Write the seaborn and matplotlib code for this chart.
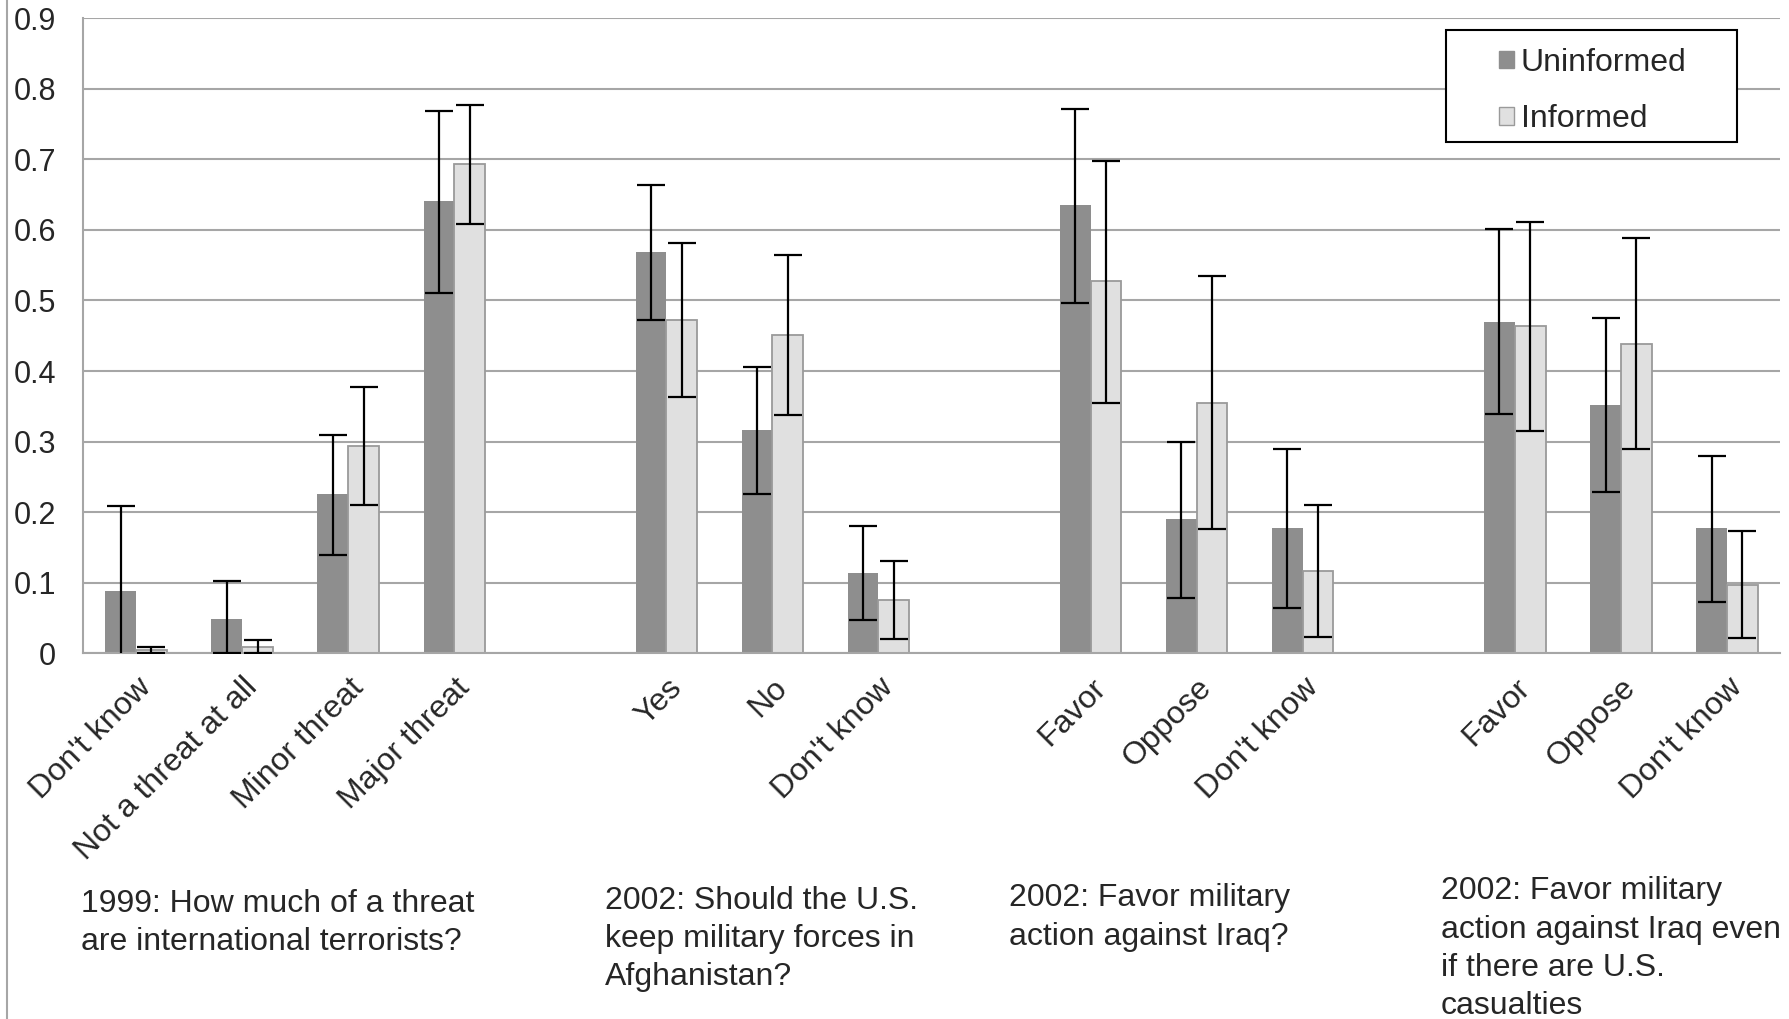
import numpy as np
import pandas as pd
import matplotlib
matplotlib.use('Agg')
import matplotlib.pyplot as plt
import matplotlib.transforms as mtransforms
from matplotlib.lines import Line2D
from matplotlib.patches import Patch, Rectangle
import seaborn as sns

# ── data ─────────────────────────────────────────────────────────────────────
group_titles = [
    "1999: How much of a threat\nare international terrorists?",
    "2002: Should the U.S.\nkeep military forces in\nAfghanistan?",
    "2002: Favor military\naction against Iraq?",
    "2002: Favor military\naction against Iraq even\nif there are U.S.\ncasualties",
]
group_labels = [
    ["Don't know", "Not a threat at all", "Minor threat", "Major threat"],
    ["Yes", "No", "Don't know"],
    ["Favor", "Oppose", "Don't know"],
    ["Favor", "Oppose", "Don't know"],
]
series = ["Uninformed", "Informed"]

uninformed = [0.088, 0.048, 0.225, 0.641,
              0.569, 0.317, 0.114,
              0.635, 0.190, 0.177,
              0.470, 0.352, 0.177]
uninformed_lo = [-0.03, 0.0, 0.139, 0.510,
                 0.472, 0.226, 0.047,
                 0.497, 0.078, 0.064,
                 0.339, 0.228, 0.073]
uninformed_hi = [0.208, 0.102, 0.310, 0.768,
                 0.664, 0.406, 0.181,
                 0.772, 0.299, 0.289,
                 0.602, 0.475, 0.280]

informed = [0.004, 0.009, 0.294, 0.693,
            0.473, 0.451, 0.075,
            0.527, 0.355, 0.117,
            0.464, 0.438, 0.096]
informed_lo = [0.0, 0.0, 0.210, 0.609,
               0.363, 0.338, 0.020,
               0.354, 0.176, 0.023,
               0.315, 0.289, 0.021]
informed_hi = [0.009, 0.019, 0.378, 0.777,
               0.581, 0.565, 0.130,
               0.698, 0.535, 0.210,
               0.611, 0.588, 0.173]

# ── build slot order (with empty gap slots between question groups) ─────────
order, tick_text, slot_of_bar = [], [], []
for g, labels in enumerate(group_labels):
    if g > 0:
        order.append(f"gap{g}")
        tick_text.append("")
    for lab in labels:
        slot_of_bar.append(len(order))
        order.append(f"g{g}:{lab}")
        tick_text.append(lab)

bar_keys = [k for k in order if not k.startswith("gap")]
df = pd.DataFrame({
    "slot": bar_keys * 2,
    "group": ["Uninformed"] * len(bar_keys) + ["Informed"] * len(bar_keys),
    "value": uninformed + informed,
})

# ── plot ─────────────────────────────────────────────────────────────────────
sns.set_style("white")
plt.rcParams['font.family'] = ['Liberation Sans', 'DejaVu Sans']

dark, light, edge, grid = '#8e8e8e', '#e0e0e0', '#9a9a9a', '#a6a6a6'
FS = 23

fig = plt.figure(figsize=(17.9, 10.19), dpi=100)
ax = fig.add_axes([0.0464, 0.359, 0.948, 0.623])

width = 0.58
sns.barplot(data=df, x="slot", y="value", hue="group", order=order,
            hue_order=series, palette=[dark, light], width=width,
            errorbar=None, dodge=True, ax=ax, legend=False, saturation=1)

for bar in ax.containers[1]:
    bar.set_edgecolor(edge)
    bar.set_linewidth(1.3)
for bar in ax.containers[0]:
    bar.set_linewidth(0)

# error bars
xs = np.array(slot_of_bar, dtype=float)
for off, vals, lo, hi in [(-width / 4, uninformed, uninformed_lo, uninformed_hi),
                          (width / 4, informed, informed_lo, informed_hi)]:
    vals, lo, hi = map(np.asarray, (vals, lo, hi))
    ax.errorbar(xs + off, vals, yerr=[vals - lo, hi - vals], fmt='none',
                ecolor='black', elinewidth=1.6, capsize=10, capthick=1.6,
                zorder=5, clip_on=True)

ax.set_ylim(0, 0.9)
ax.set_xlim(-0.5, len(order) - 0.5)
ax.set_yticks(np.arange(0, 0.91, 0.1))
ax.set_yticklabels(["0"] + [f"{v:.1f}" for v in np.arange(0.1, 0.91, 0.1)],
                   fontsize=22)
ax.yaxis.grid(True, color=grid, linewidth=1.5)
ax.set_axisbelow(True)
ax.tick_params(axis='y', length=6.5, width=1.5, color=grid, direction='out',
               pad=13)

ax.set_xticks(range(len(order)))
ax.set_xticklabels(tick_text, rotation=45, ha='right', rotation_mode='anchor',
                   fontsize=FS)
ax.tick_params(axis='x', which='major', length=0, pad=14)
ax.set_xticks(np.arange(-0.5, len(order)), minor=True)
ax.tick_params(axis='x', which='minor', length=6, width=1.5, color=grid,
               direction='out')
ax.set_xlabel("")
ax.set_ylabel("")

for side in ['top', 'right']:
    ax.spines[side].set_visible(False)
for side in ['left', 'bottom']:
    ax.spines[side].set_color(grid)
    ax.spines[side].set_linewidth(1.5)

# legend (frame drawn separately to get the wide side padding)
handles = [Patch(facecolor=dark, edgecolor=dark), Patch(facecolor=light, edgecolor=edge)]
leg = ax.legend(handles, series, loc='upper left',
                bbox_to_anchor=(0.8374, 0.953), bbox_transform=fig.transFigure,
                fontsize=FS, frameon=False, handlelength=0.47,
                handleheight=0.47, handletextpad=0.22, labelspacing=0.82,
                borderpad=0, borderaxespad=0)
leg.set_zorder(10)
ax.add_patch(Rectangle((0.8078, 0.8610), 0.1628, 0.1099,
                       transform=fig.transFigure, facecolor='white',
                       edgecolor='black', linewidth=1.5, zorder=9,
                       clip_on=False))

# question texts under each group
trans = mtransforms.blended_transform_factory(ax.transData, fig.transFigure)
title_x = [-0.52, 4.42, 8.23, 12.3]
title_y = [0.128, 0.131, 0.133, 0.140]
for t, x, y in zip(group_titles, title_x, title_y):
    fig.text(x, y, t, transform=trans, ha='left', va='top', fontsize=FS,
             linespacing=1.36)

# thin border on the left edge of the picture
fig.add_artist(Line2D([0.004, 0.004], [0, 1], transform=fig.transFigure,
                      color=grid, linewidth=1.5))

fig.savefig('out.png', dpi=100)
